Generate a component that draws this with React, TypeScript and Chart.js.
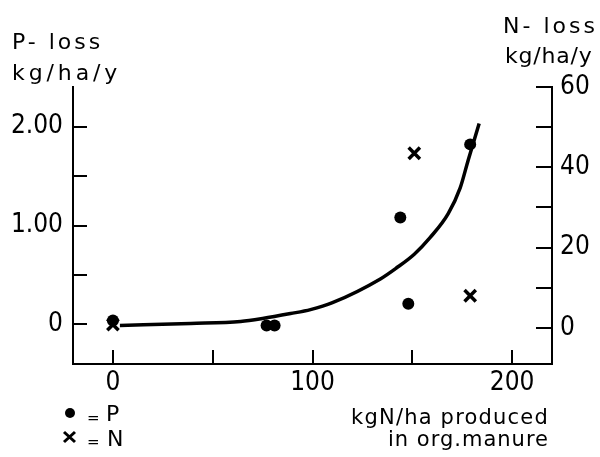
import React, { useEffect, useRef } from 'react';
import { Chart, registerables } from 'chart.js';

Chart.register(...registerables);

// P-loss observations (kg/ha/y) vs kgN/ha produced in organic manure
const pManureN = [0, 77, 81, 144, 148, 179];
const pLoss = [0.04, -0.01, -0.01, 1.08, 0.21, 1.82];

// N-loss observations (kg/ha/y)
const nManureN = [0, 151, 179];
const nLoss = [0.8, 43.5, 8];

// Hand-drawn fitted curve for P-loss
const curveManureN = [3.5, 39, 64, 75, 89, 99, 110, 134, 142, 151, 159, 168, 174, 178, 183.5];
const curvePLoss = [-0.01, 0.01, 0.03, 0.06, 0.11, 0.15, 0.22, 0.46, 0.57, 0.71, 0.88, 1.12, 1.38, 1.66, 2.03];

// Labelled ticks
const xTickLabels = [0, 100, 200];
const pTickLabels = [0, 1, 2];
const nTickLabels = [0, 20, 40, 60];

const NARROW = '"DejaVu Sans Condensed", "Liberation Sans Narrow", "DejaVu Sans", sans-serif';
const SANS = '"DejaVu Sans", "Liberation Sans", sans-serif';

function drawText(
  ctx: CanvasRenderingContext2D,
  text: string,
  x: number,
  y: number,
  size: number,
  align: CanvasTextAlign,
  spacing: number
) {
  ctx.save();
  ctx.font = `${size}px ${SANS}`;
  ctx.fillStyle = '#000';
  ctx.textAlign = align;
  ctx.textBaseline = 'alphabetic';
  (ctx as any).letterSpacing = `${spacing}px`;
  ctx.fillText(text, x, y);
  ctx.restore();
}

// Inward-pointing tick marks drawn at each scale tick
const inwardTicks = {
  id: 'inwardTicks',
  afterDraw(chart: Chart) {
    const ctx = chart.ctx;
    const area = chart.chartArea;
    ctx.save();
    ctx.strokeStyle = '#000';
    ctx.lineWidth = 2;
    ctx.beginPath();
    const xs: any = chart.scales.x;
    xs.ticks.forEach((t: any) => {
      const px = Math.round(xs.getPixelForValue(t.value));
      ctx.moveTo(px, area.bottom);
      ctx.lineTo(px, area.bottom - 14);
    });
    const ys: any = chart.scales.y;
    ys.ticks.forEach((t: any) => {
      const py = Math.round(ys.getPixelForValue(t.value));
      ctx.moveTo(area.left, py);
      ctx.lineTo(area.left + 14, py);
    });
    const y1: any = chart.scales.y1;
    y1.ticks.forEach((t: any) => {
      const py = Math.round(y1.getPixelForValue(t.value));
      ctx.moveTo(area.right, py);
      ctx.lineTo(area.right - 16, py);
    });
    ctx.stroke();
    ctx.restore();
  },
};

const annotations = {
  id: 'annotations',
  afterDraw(chart: Chart) {
    const ctx = chart.ctx;
    // axis titles
    drawText(ctx, 'P- loss', 12, 49, 22, 'left', 3);
    drawText(ctx, 'kg/ha/y', 12, 80, 22, 'left', 3.9);
    drawText(ctx, 'N- loss', 503, 33, 22, 'left', 3);
    drawText(ctx, 'kg/ha/y', 505, 63, 22, 'left', 0.8);
    drawText(ctx, 'kgN/ha produced', 549, 424, 21, 'right', 1.2);
    drawText(ctx, 'in org.manure', 549, 446, 21, 'right', 1.0);

    // legend
    ctx.save();
    ctx.fillStyle = '#000';
    ctx.strokeStyle = '#000';
    ctx.beginPath();
    ctx.arc(70, 413, 5, 0, Math.PI * 2);
    ctx.fill();
    ctx.lineWidth = 3;
    ctx.beginPath();
    ctx.moveTo(64, 432);
    ctx.lineTo(75, 442);
    ctx.moveTo(75, 432);
    ctx.lineTo(64, 442);
    ctx.stroke();
    ctx.restore();
    drawText(ctx, '=', 87, 423, 15, 'left', 0);
    drawText(ctx, 'P', 106, 421, 22, 'left', 0);
    drawText(ctx, '=', 87, 447, 15, 'left', 0);
    drawText(ctx, 'N', 107, 446, 22, 'left', 0);
  },
};

export default function App() {
  const ref = useRef<HTMLCanvasElement | null>(null);

  useEffect(() => {
    document.body.style.margin = '0';
    const canvas = ref.current;
    if (!canvas) return;

    const tickFont = { family: NARROW, size: 26 };
    const noGrid = { display: false, drawOnChartArea: false, drawTicks: false, tickLength: 0 };

    const chart = new Chart(canvas, {
      type: 'scatter',
      data: {
        datasets: [
          {
            label: 'curve',
            data: curveManureN.map((x, i) => ({ x, y: curvePLoss[i] })),
            showLine: true,
            borderColor: '#000',
            borderWidth: 3.5,
            pointRadius: 0,
            cubicInterpolationMode: 'monotone',
            yAxisID: 'y',
          },
          {
            label: 'P',
            data: pManureN.map((x, i) => ({ x, y: pLoss[i] })),
            pointStyle: 'circle',
            pointRadius: 6,
            backgroundColor: '#000',
            borderColor: '#000',
            borderWidth: 0,
            yAxisID: 'y',
          },
          {
            label: 'N',
            data: nManureN.map((x, i) => ({ x, y: nLoss[i] })),
            pointStyle: 'crossRot',
            pointRadius: 8,
            backgroundColor: '#000',
            borderColor: '#000',
            borderWidth: 3.5,
            yAxisID: 'y1',
          },
        ],
      },
      options: {
        animation: false,
        responsive: false,
        devicePixelRatio: 1,
        layout: { padding: { left: 8, right: 0, top: 87, bottom: 0 } },
        plugins: {
          legend: { display: false },
          tooltip: { enabled: false },
          title: { display: false },
        },
        scales: {
          x: {
            type: 'linear',
            position: 'bottom',
            min: -20,
            max: 220,
            afterFit: (s: any) => {
              s.height = 93;
            },
            border: { display: true, color: '#000', width: 2 },
            grid: noGrid,
            ticks: {
              stepSize: 50,
              includeBounds: false,
              autoSkip: false,
              maxRotation: 0,
              padding: 4,
              color: '#000',
              font: tickFont,
              callback: (v: any) => (xTickLabels.includes(Number(v)) ? String(v) : ''),
            },
          },
          y: {
            type: 'linear',
            position: 'left',
            min: -0.4,
            max: 2.4,
            afterFit: (s: any) => {
              s.width = 65;
            },
            border: { display: true, color: '#000', width: 2 },
            grid: noGrid,
            ticks: {
              stepSize: 0.5,
              includeBounds: false,
              autoSkip: false,
              padding: 10,
              color: '#000',
              font: tickFont,
              callback: (v: any) => {
                const n = Number(v);
                if (!pTickLabels.includes(n)) return '';
                return n === 0 ? '0' : n.toFixed(2);
              },
            },
          },
          y1: {
            type: 'linear',
            position: 'right',
            min: -9,
            max: 60,
            afterFit: (s: any) => {
              s.width = 48;
            },
            border: { display: true, color: '#000', width: 2 },
            grid: noGrid,
            ticks: {
              stepSize: 10,
              includeBounds: false,
              autoSkip: false,
              padding: 8,
              color: '#000',
              font: tickFont,
              callback: (v: any) => (nTickLabels.includes(Number(v)) ? String(v) : ''),
            },
          },
        },
      },
      plugins: [inwardTicks, annotations],
    });

    return () => chart.destroy();
  }, []);

  return (
    <div style={{ width: 600, height: 457, background: '#fff' }}>
      <canvas ref={ref} width={600} height={457} style={{ display: 'block', width: 600, height: 457 }} />
    </div>
  );
}
